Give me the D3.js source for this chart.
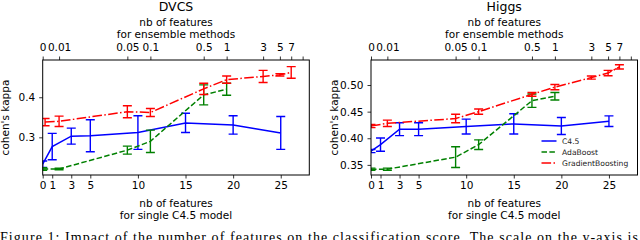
<!DOCTYPE html>
<html>
<head>
<meta charset="utf-8">
<script src="https://cdn.jsdelivr.net/npm/d3@7"></script>
<style>
  body { margin: 0; background: #fff; }
  svg { display: block; }
</style>
</head>
<body>
<div id="chart"></div>
<script>
// bottom axis: nb of features for the single C4.5 model
var featTicks = [0, 1, 3, 5, 10, 15, 20, 25];
// top axis: labels of the ensemble setting and where they sit on the bottom axis
var ensTickLabels = ["0", "0.01", "0.05", "0.1", "0.5", "1", "3", "5", "7", ""];
var ensTickAt = [0, 1.72, 8.89, 11.31, 16.91, 19.32, 23.15, 24.91, 26.1, 27.3];

var c45X = [0, 1, 3, 5, 10, 15, 20, 25];
var adaX = [0, 1.72, 8.89, 11.31, 16.91, 19.32];

// DVCS
var dvcsC45 = [0.233, 0.277, 0.303, 0.304, 0.312, 0.336, 0.331, 0.311];
var dvcsC45Err = [0.008, 0.033, 0.020, 0.040, 0.042, 0.024, 0.023, 0.041];
var dvcsAda = [0.221, 0.221, 0.268, 0.290, 0.406, 0.420];
var dvcsAdaErr = [0.003, 0.002, 0.010, 0.028, 0.025, 0.015];
var dvcsGbX = [0.25, 1.72, 8.89, 11.31, 16.91, 19.32, 23.15, 24.91, 26.1];
var dvcsGb = [0.338, 0.340, 0.364, 0.362, 0.421, 0.444, 0.452, 0.456, 0.462];
var dvcsGbErr = [0.009, 0.013, 0.015, 0.010, 0.014, 0.009, 0.015, 0.003, 0.0145];

// Higgs
var higgsC45 = [0.376, 0.388, 0.417, 0.417, 0.422, 0.427, 0.423, 0.432];
var higgsC45Err = [0.003, 0.0125, 0.012, 0.012, 0.014, 0.019, 0.016, 0.010];
var higgsAda = [0.342, 0.342, 0.3645, 0.388, 0.4705, 0.479];
var higgsAdaErr = [0.002, 0.002, 0.0195, 0.009, 0.0125, 0.007];
var higgsGbX = [0, 1.72, 8.89, 11.31, 16.91, 19.32, 23.15, 24.91, 26.1];
var higgsGb = [0.423, 0.428, 0.437, 0.450, 0.4825, 0.496, 0.514, 0.5225, 0.534];
var higgsGbErr = [0.003, 0.006, 0.008, 0.005, 0.0035, 0.005, 0.003, 0.005, 0.004];

var seriesNames = ["C4.5", "AdaBoost", "GradientBoosting"];
var dvcsYTicks = [0.3, 0.4];
var higgsYTicks = [0.35, 0.40, 0.45, 0.50];

var width = 640, height = 240,
    plotTop = 60, plotBottom = 175,
    sans = "DejaVu Sans, sans-serif",
    colors = ["#0000ff", "#008000", "#ff0000"],
    dashes = [null, "5.5,2.4", "9.6,2.4,1.5,2.4"];

var svg = d3.select("#chart").append("svg")
  .attr("width", width)
  .attr("height", height);

var panels = [
  {title: "DVCS", x0: 42.7, x1: 309.3, yDom: [0.206, 0.493], yTicks: dvcsYTicks, fmt: ".1f",
   series: [[c45X, dvcsC45, dvcsC45Err], [adaX, dvcsAda, dvcsAdaErr], [dvcsGbX, dvcsGb, dvcsGbErr]],
   legend: false},
  {title: "Higgs", x0: 371, x1: 637.5, yDom: [0.331, 0.547], yTicks: higgsYTicks, fmt: ".2f",
   series: [[c45X, higgsC45, higgsC45Err], [adaX, higgsAda, higgsAdaErr], [higgsGbX, higgsGb, higgsGbErr]],
   legend: true}
];

function styleAxis(g) {
  g.select(".domain").remove();
  g.selectAll("line").attr("stroke", "#000").attr("stroke-width", 0.8);
  g.selectAll("text").style("font-size", "10.5px").style("font-family", sans).attr("fill", "#000");
}

function label(g, x, y, size, txt) {
  return g.append("text").attr("x", x).attr("y", y)
    .attr("text-anchor", "middle")
    .style("font-family", sans).style("font-size", size)
    .attr("fill", "#000").text(txt);
}

panels.forEach(function(p, pi) {
  var x = d3.scaleLinear().domain([0, 28]).range([p.x0, p.x1]);
  var y = d3.scaleLinear().domain(p.yDom).range([plotBottom, plotTop]);
  var cx = (p.x0 + p.x1) / 2;

  var g = svg.append("g");

  // bottom axis
  g.append("g")
    .attr("transform", "translate(0," + plotBottom + ")")
    .call(d3.axisBottom(x).tickValues(featTicks).tickFormat(d3.format("d"))
      .tickSize(3.5).tickSizeOuter(0).tickPadding(3.5))
    .call(styleAxis);

  // top axis (ensemble methods)
  g.append("g")
    .attr("transform", "translate(0," + plotTop + ")")
    .call(d3.axisTop(x).tickValues(ensTickAt)
      .tickFormat(function(d, i) { return ensTickLabels[i]; })
      .tickSize(3.5).tickSizeOuter(0).tickPadding(6))
    .call(styleAxis);

  // left axis
  g.append("g")
    .attr("transform", "translate(" + p.x0 + ",0)")
    .call(d3.axisLeft(y).tickValues(p.yTicks).tickFormat(d3.format(p.fmt))
      .tickSize(3.5).tickSizeOuter(0).tickPadding(4))
    .call(styleAxis);

  // clip
  var clipId = "clip" + pi;
  svg.append("clipPath").attr("id", clipId)
    .append("rect")
    .attr("x", p.x0).attr("y", plotTop)
    .attr("width", p.x1 - p.x0).attr("height", plotBottom - plotTop);

  var plot = g.append("g").attr("clip-path", "url(#" + clipId + ")");

  p.series.forEach(function(s, si) {
    var pts = s[0].map(function(xv, i) { return {x: xv, y: s[1][i], e: s[2][i]}; });
    var line = d3.line().x(function(d) { return x(d.x); }).y(function(d) { return y(d.y); });

    plot.append("path")
      .datum(pts)
      .attr("d", line)
      .attr("fill", "none")
      .attr("stroke", colors[si])
      .attr("stroke-width", 1.5)
      .attr("stroke-dasharray", dashes[si]);

    var eb = plot.selectAll(".eb" + si)
      .data(pts)
      .enter().append("g")
      .attr("class", "eb" + si)
      .attr("stroke", colors[si])
      .attr("stroke-width", 1.4);
    eb.append("line")
      .attr("x1", function(d) { return x(d.x); })
      .attr("x2", function(d) { return x(d.x); })
      .attr("y1", function(d) { return y(d.y - d.e); })
      .attr("y2", function(d) { return y(d.y + d.e); });
    eb.append("line")
      .attr("x1", function(d) { return x(d.x) - 4.5; })
      .attr("x2", function(d) { return x(d.x) + 4.5; })
      .attr("y1", function(d) { return y(d.y + d.e); })
      .attr("y2", function(d) { return y(d.y + d.e); });
    eb.append("line")
      .attr("x1", function(d) { return x(d.x) - 4.5; })
      .attr("x2", function(d) { return x(d.x) + 4.5; })
      .attr("y1", function(d) { return y(d.y - d.e); })
      .attr("y2", function(d) { return y(d.y - d.e); });
  });

  // frame
  g.append("rect")
    .attr("x", p.x0).attr("y", plotTop)
    .attr("width", p.x1 - p.x0).attr("height", plotBottom - plotTop)
    .attr("fill", "none").attr("stroke", "#000").attr("stroke-width", 1);

  // titles and labels
  label(g, cx, 10.5, "12.5px", p.title);
  label(g, cx, 25.5, "10.5px", "nb of features");
  label(g, cx, 37.5, "10.5px", "for ensemble methods");
  label(g, cx, 206.5, "10.5px", "nb of features");
  label(g, cx, 218.5, "10.5px", "for single C4.5 model");
  label(g, 0, 0, "10.5px", "cohen's kappa")
    .attr("transform", "translate(" + (p.x0 - 33.5) + "," + ((plotTop + plotBottom) / 2) + ") rotate(-90)");

  if (p.legend) {
    var lg = g.append("g").attr("transform", "translate(541.5,141)");
    seriesNames.forEach(function(n, i) {
      lg.append("line")
        .attr("x1", 0).attr("x2", 15).attr("y1", i * 11).attr("y2", i * 11)
        .attr("stroke", colors[i]).attr("stroke-width", 1.5)
        .attr("stroke-dasharray", dashes[i]);
      lg.append("text").attr("x", 20.5).attr("y", i * 11).attr("dy", "0.35em")
        .style("font-family", sans).style("font-size", "7.6px")
        .attr("fill", "#222").text(n);
    });
  }
});

// caption of the figure (cut at the bottom edge)
svg.append("text")
  .attr("x", 0).attr("y", 242)
  .style("font-family", "Liberation Serif, serif")
  .style("font-size", "14px")
  .attr("fill", "#000")
  .attr("textLength", 638)
  .attr("lengthAdjust", "spacing")
  .text("Figure 1: Impact of the number of features on the classification score. The scale on the y-axis is");
</script>
</body>
</html>
